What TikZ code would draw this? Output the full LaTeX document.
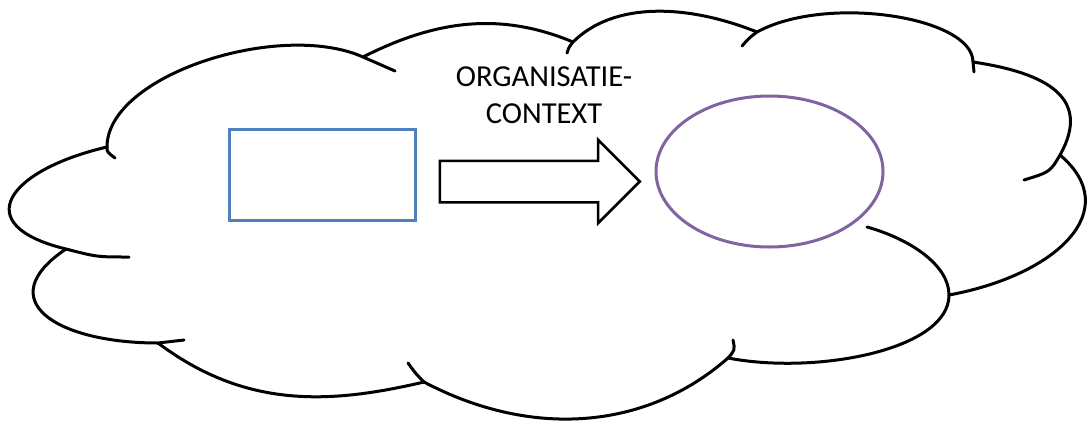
\documentclass[tikz,border=0pt]{standalone}
\usepackage{fontspec}
\setmainfont{Carlito}
\usetikzlibrary{shapes, arrows, positioning, calc}
\definecolor{kaderblauw}{RGB}{79,129,189}
\definecolor{ovaalpaars}{RGB}{128,100,162}

\begin{document}
\begin{tikzpicture}[x=1pt,y=-1pt]
    \tikzstyle{every node} = [font=\fontsize{30.5}{37}\selectfont]
    \tikzstyle{wolk} = [line width=3pt, line cap=round, line join=round]
    \tikzstyle{kader} = [draw=kaderblauw, line width=3pt, rectangle, minimum width=186, minimum height=91, inner sep=0pt]
    \tikzstyle{ovaal} = [draw=ovaalpaars, line width=3pt, ellipse, minimum width=227, minimum height=151, inner sep=0pt]
    \tikzstyle{pijl} = [draw, line width=2.5pt, single arrow, single arrow head extend=21, inner xsep=0pt, inner ysep=19.5, minimum height=200]
    \useasboundingbox (0,0) rectangle (1091,421);

    % cloud, lobe by lobe, with the short inner arcs
    \draw[wolk] (115,158) .. controls (107,152) .. (107,147)
        .. controls (107,75) and (280,20) .. (363,57) -- (395,71);
    \draw[wolk] (107,147) .. controls (8,170) and (-33,225) .. (66,249)
        .. controls (97,257) .. (129,257);
    \draw[wolk] (66,249) .. controls (-10,300) and (56,343) .. (158,343) -- (184,340);
    \draw[wolk] (158,343) .. controls (246,409) and (330,404) .. (424,382);
    \draw[wolk] (408,363) .. controls (416,374) .. (424,382)
        .. controls (530,438) and (645,431) .. (728,358)
        .. controls (735,350) .. (733,340);
    \draw[wolk] (728,358) .. controls (816,375) and (949,350) .. (949,295)
        .. controls (949,265) and (910,239) .. (867,227);
    \draw[wolk] (949,295) .. controls (1057,275) and (1125,210) .. (1060,155);
    \draw[wolk] (1024,180) .. controls (1050,172) .. (1060,155)
        .. controls (1092,98) and (1047,73) .. (973,62);
    \draw[wolk] (974,72) -- (973,62)
        .. controls (973,17) and (827,-6) .. (757,32)
        .. controls (749,38) .. (742,46);
    \draw[wolk] (757,32) .. controls (687,4) and (614,1.4) .. (573,42)
        .. controls (569,47) .. (567,53);
    \draw[wolk] (573,42) .. controls (499,11) and (434,21) .. (363,57);

    % place nodes
    \node[kader] (bron) at (322,174.5) {};
    \node[ovaal] (doel) at (769.5,171.5) {};
    \node[align=center, inner sep=0pt] (context) at (544,95) {ORGANISATIE-\\CONTEXT};

    % Connections
    \node[pijl, anchor=tail] (overgang) at ($(bron.east)+(22,7)$) {};

\end{tikzpicture}
\end{document}
